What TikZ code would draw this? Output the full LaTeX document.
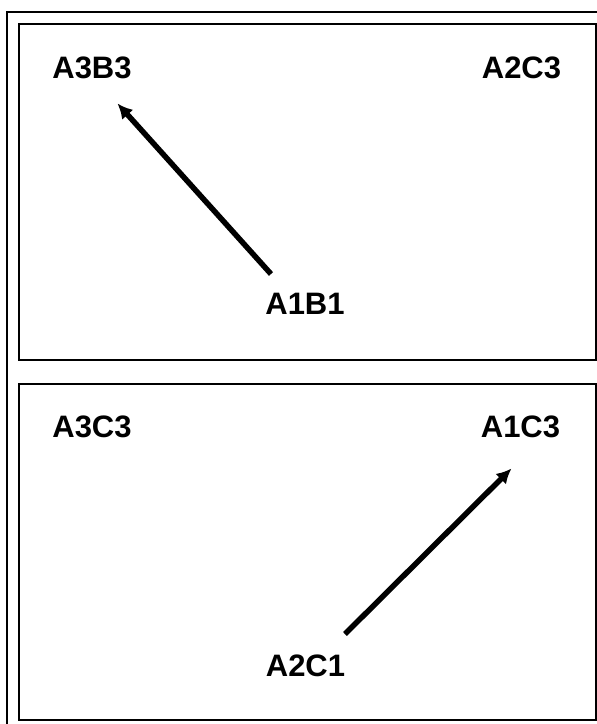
\documentclass[tikz,border=0pt]{standalone}
\usepackage{fontspec}
\setmainfont{Liberation Sans}
\usetikzlibrary{arrows.meta}
\begin{document}
\begin{tikzpicture}[x=1pt,y=-1pt,
  lbl/.style={font=\fontsize{31}{35}\selectfont\bfseries, inner sep=0pt, anchor=center},
  frame/.style={draw=black, line width=2.2pt},
  arr/.style={line width=5.5pt, -{Latex[length=15pt,width=15pt]}}]
\useasboundingbox (0,0) rectangle (597,724);
\fill[white] (0,0) rectangle (597,724);
% outer frame (only left and top visible)
\draw[frame] (7,730) -- (7,12) -- (603,12);
% panels
\draw[frame] (19,24) rectangle (596,360);
\draw[frame] (19,384) rectangle (596,720);
% labels top panel
\node[lbl] (a3b3) at (92,68) {A3B3};
\node[lbl] (a2c3) at (521.5,68) {A2C3};
\node[lbl] (a1b1) at (305,303.5) {A1B1};
% labels bottom panel
\node[lbl] (a3c3) at (92,427) {A3C3};
\node[lbl] (a1c3) at (520.5,427) {A1C3};
\node[lbl] (a2c1) at (305.5,666) {A2C1};
% arrow ends
\coordinate (t1) at (271,274);
\coordinate (h1) at (117.5,103.5);
\coordinate (t2) at (345,634);
\coordinate (h2) at (511.5,468.5);
\draw[arr] (t1) -- (h1);
\draw[arr] (t2) -- (h2);
\end{tikzpicture}
\end{document}
